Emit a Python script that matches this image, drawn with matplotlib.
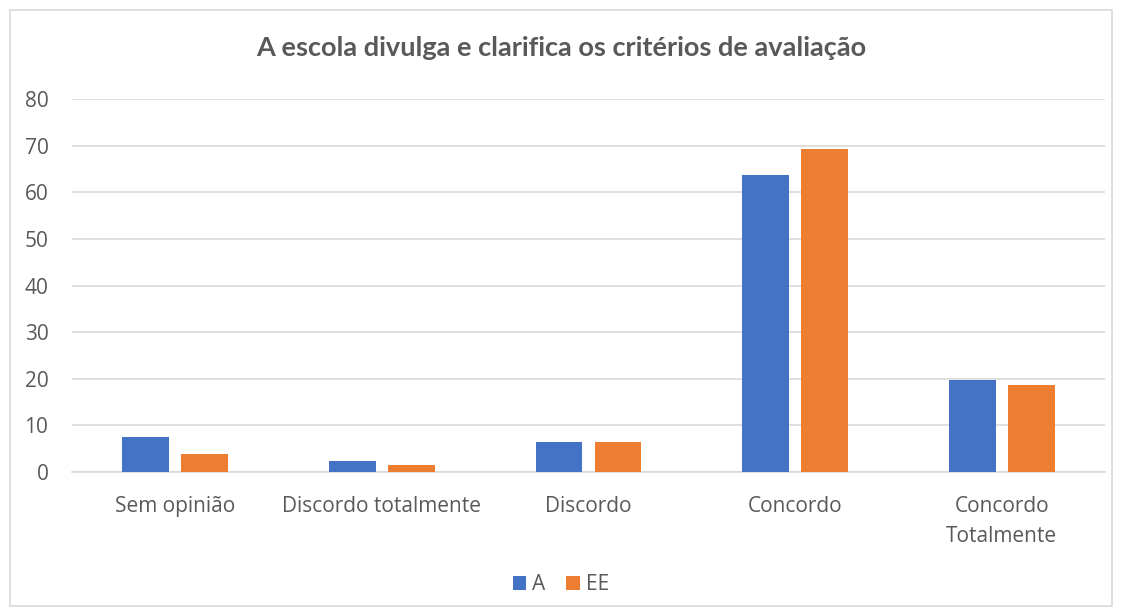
import matplotlib
matplotlib.use("Agg")
import matplotlib.pyplot as plt
import numpy as np
from matplotlib.patches import Rectangle

categories = ["Sem opinião", "Discordo totalmente", "Discordo", "Concordo", "Concordo\nTotalmente"]
series_names = ["A", "EE"]
values_A = [7.6, 2.4, 6.5, 63.8, 19.7]
values_EE = [3.9, 1.5, 6.5, 69.2, 18.7]
yticks = [0, 10, 20, 30, 40, 50, 60, 70, 80]

plt.rcParams['font.family'] = ['Open Sans', 'DejaVu Sans']
text_color = "#595959"

fig = plt.figure(figsize=(11.22, 6.16), dpi=100)
W, H = 1122, 616
ax = fig.add_axes([72 / W, 1 - 472 / H, (1105 - 72) / W, (472 - 99) / H])

x = np.arange(len(categories))
w = 0.227
off = 0.143
ax.bar(x - off, values_A, width=w, color="#4472C4", label=series_names[0], zorder=3)
ax.bar(x + off, values_EE, width=w, color="#ED7D31", label=series_names[1], zorder=3)

ax.set_xlim(-0.5, len(categories) - 0.5)
ax.set_ylim(0, 80)
ax.set_yticks(yticks)
ax.set_yticklabels([str(t) for t in yticks])
ax.yaxis.grid(True, color="#D9D9D9", linewidth=1.2, zorder=0)
ax.set_axisbelow(True)
for s in ["top", "right", "left"]:
    ax.spines[s].set_visible(False)
ax.spines["bottom"].set_color("#D9D9D9")
ax.spines["bottom"].set_linewidth(1.2)
ax.tick_params(axis="both", length=0, colors=text_color, labelsize=15)
ax.tick_params(axis="y", pad=17)
ax.tick_params(axis="x", pad=17)
ax.set_xticks(x)
ax.set_xticklabels(categories, linespacing=1.6)

fig.text(0.5, 1 - 48 / H, "A escola divulga e clarifica os critérios de avaliação",
         ha="center", va="center", fontsize=19.5, fontweight="bold", color=text_color,
         family=['Lato', 'DejaVu Sans'])

leg = fig.legend(loc="center", bbox_to_anchor=(0.5, 1 - 585 / H), ncol=2, frameon=False,
                 fontsize=15, handlelength=0.65, handleheight=0.65, columnspacing=1.0,
                 handletextpad=0.3, labelcolor=text_color)

fig.patches.append(Rectangle((10 / W, 1 - 606 / H), 1102 / W, 596 / H, transform=fig.transFigure,
                             fill=False, edgecolor="#D9D9D9", linewidth=1.2))

fig.savefig("out.png", dpi=100)
